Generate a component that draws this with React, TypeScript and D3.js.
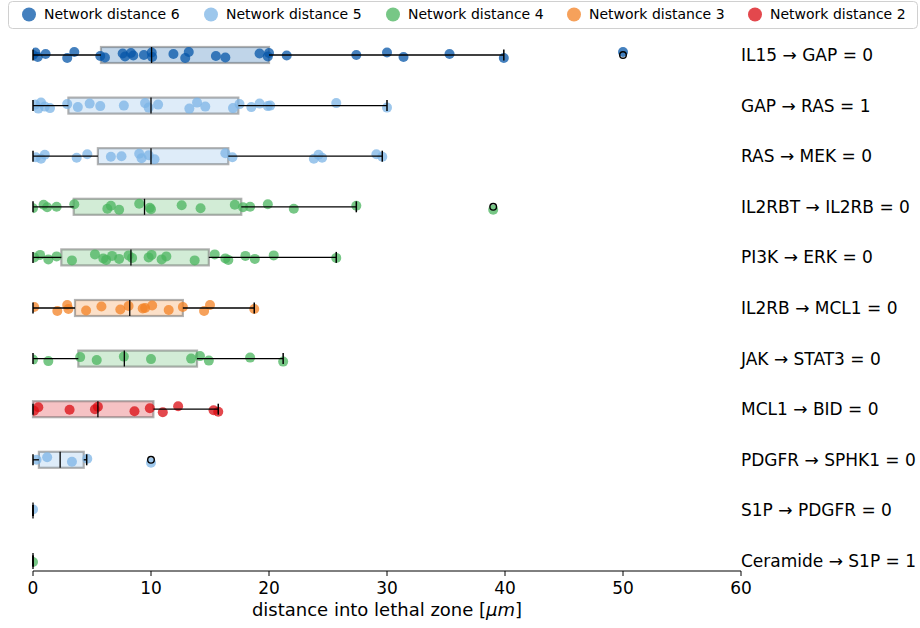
import React, { useEffect, useRef } from "react";
import * as d3 from "d3";

// Rows from top to bottom
const ROW_LABELS = [
  "IL15 → GAP = 0",
  "GAP → RAS = 1",
  "RAS → MEK = 0",
  "IL2RBT → IL2RB = 0",
  "PI3K → ERK = 0",
  "IL2RB → MCL1 = 0",
  "JAK → STAT3 = 0",
  "MCL1 → BID = 0",
  "PDGFR → SPHK1 = 0",
  "S1P → PDGFR = 0",
  "Ceramide → S1P = 1",
];

const ROW_DISTANCE = [6, 5, 5, 4, 4, 3, 4, 2, 5, 5, 4];

// Observed distances into the lethal zone (µm), one list per row
const ROW_POINTS: number[][] = [
  [0, 0.2, 0.4, 1.07, 2.9, 3.5, 5.7, 6.1, 7.6, 7.8, 8.3, 8.5, 9.4, 10.06, 10.1, 11.9, 12.9, 13.2, 15.5, 16.3, 19.2, 19.9, 20.0, 21.5, 27.4, 30.0, 31.4, 35.3, 39.9, 50.0],
  [0.17, 0.45, 0.68, 1.0, 1.44, 2.9, 3.8, 4.8, 5.7, 7.7, 9.5, 9.8, 10.6, 13.25, 13.9, 14.6, 16.95, 17.5, 18.5, 19.2, 19.9, 20.1, 25.7, 30.0],
  [0.25, 0.68, 1.0, 3.7, 4.6, 6.6, 7.5, 9.0, 9.2, 9.8, 10.3, 16.3, 16.9, 23.8, 24.2, 24.5, 29.1, 29.6],
  [0, 0.9, 1.2, 2.0, 3.5, 6.3, 6.6, 7.3, 9.0, 9.9, 10.0, 12.6, 14.2, 17.1, 17.8, 18.4, 19.9, 22.1, 27.4, 39.0],
  [0.1, 0.6, 1.3, 2.0, 3.3, 5.25, 5.96, 6.2, 6.7, 7.3, 8.1, 8.4, 9.8, 10.05, 10.9, 11.3, 13.7, 15.4, 16.3, 16.55, 18.0, 18.8, 20.4, 25.7],
  [0.1, 2.06, 2.9, 3.0, 4.5, 5.8, 7.4, 8.1, 9.3, 9.5, 10.1, 11.5, 12.7, 14.5, 15.0, 18.75],
  [0, 1.3, 4.0, 5.4, 7.7, 10.0, 13.4, 14.15, 14.9, 18.4, 21.2],
  [0.08, 0.45, 3.1, 5.25, 5.5, 8.6, 9.9, 11.0, 12.3, 15.3, 15.7],
  [0.3, 1.2, 3.3, 4.6, 10.0],
  [0],
  [0],
];

// Box-plot summaries per row
const BOX_Q1 = [5.76, 3.0, 5.5, 3.45, 2.4, 3.56, 3.84, 0, 0.5, 0, 0];
const BOX_MEDIAN = [10.05, 10.0, 10.0, 9.45, 8.3, 8.2, 7.74, 5.5, 2.3, 0, 0];
const BOX_Q3 = [20.0, 17.4, 16.55, 17.65, 14.9, 12.7, 13.9, 10.2, 4.3, 0, 0];
const WHISKER_LO = [0, 0, 0, 0, 0, 0, 0, 0, 0, 0, 0];
const WHISKER_HI = [39.9, 30.0, 29.6, 27.4, 25.7, 18.75, 21.2, 15.7, 4.55, 0, 0];
const OUTLIERS: number[][] = [[50.0], [], [], [39.0], [], [], [], [], [10.0], [], []];

const X_TICKS = [0, 10, 20, 30, 40, 50, 60];

const LEGEND_DISTANCES = [6, 5, 4, 3, 2];
const DISTANCE_COLOR: Record<number, string> = {
  6: "#0556a8",
  5: "#7cb4e6",
  4: "#4ab45d",
  3: "#f38224",
  2: "#d90b12",
};

const JITTER = [0, -2.5, 2, -1, 3, -3, 1, 2.5, -1.5, 1.5, -2, 0.5];

const W = 920;
const H = 628;
const FONT = "DejaVu Sans, sans-serif";

export default function App() {
  const ref = useRef<SVGSVGElement | null>(null);

  useEffect(() => {
    const svg = d3.select(ref.current);
    svg.selectAll("*").remove();

    const x = d3.scaleLinear().domain([0, 60]).range([33, 741]);
    const y = d3.scaleLinear().domain([0, 10]).range([55, 561]);
    const axisY = 571;
    const boxH = 16;
    const capH = 11;

    svg
      .append("defs")
      .append("clipPath")
      .attr("id", "plot-clip")
      .append("rect")
      .attr("x", x(0))
      .attr("y", 30)
      .attr("width", x(60) - x(0))
      .attr("height", axisY - 30);

    const boxes = svg.append("g");
    const points = svg.append("g").attr("clip-path", "url(#plot-clip)");
    const lines = svg.append("g");

    ROW_LABELS.forEach((_, i) => {
      const cy = y(i);
      const color = DISTANCE_COLOR[ROW_DISTANCE[i]];

      // box body
      boxes
        .append("rect")
        .attr("x", x(BOX_Q1[i]))
        .attr("y", cy - boxH / 2)
        .attr("width", x(BOX_Q3[i]) - x(BOX_Q1[i]))
        .attr("height", boxH)
        .attr("fill", color)
        .attr("fill-opacity", 0.25)
        .attr("stroke", "#555")
        .attr("stroke-opacity", 0.45)
        .attr("stroke-width", 2.2);

      // individual observations
      points
        .append("g")
        .selectAll("circle")
        .data(ROW_POINTS[i])
        .enter()
        .append("circle")
        .attr("cx", (d) => x(d))
        .attr("cy", (_, k) => cy + JITTER[(k + i * 3) % JITTER.length])
        .attr("r", 5)
        .attr("fill", color)
        .attr("fill-opacity", 0.75);

      // whiskers
      lines
        .append("line")
        .attr("x1", x(WHISKER_LO[i]))
        .attr("x2", x(BOX_Q1[i]))
        .attr("y1", cy)
        .attr("y2", cy)
        .attr("stroke", "#000")
        .attr("stroke-width", 1.3);
      lines
        .append("line")
        .attr("x1", x(BOX_Q3[i]))
        .attr("x2", x(WHISKER_HI[i]))
        .attr("y1", cy)
        .attr("y2", cy)
        .attr("stroke", "#000")
        .attr("stroke-width", 1.3);
      [WHISKER_LO[i], WHISKER_HI[i]].forEach((v) => {
        lines
          .append("line")
          .attr("x1", x(v))
          .attr("x2", x(v))
          .attr("y1", cy - capH / 2)
          .attr("y2", cy + capH / 2)
          .attr("stroke", "#000")
          .attr("stroke-width", 1.5);
      });

      // median
      lines
        .append("line")
        .attr("x1", x(BOX_MEDIAN[i]))
        .attr("x2", x(BOX_MEDIAN[i]))
        .attr("y1", cy - boxH / 2)
        .attr("y2", cy + boxH / 2)
        .attr("stroke", "#000")
        .attr("stroke-width", 1.3);

      // fliers
      lines
        .append("g")
        .selectAll("circle")
        .data(OUTLIERS[i])
        .enter()
        .append("circle")
        .attr("cx", (d) => x(d))
        .attr("cy", cy)
        .attr("r", 3.3)
        .attr("fill", "none")
        .attr("stroke", "#000")
        .attr("stroke-width", 1.4);
    });

    // row labels on the right
    svg
      .append("g")
      .selectAll("text")
      .data(ROW_LABELS)
      .enter()
      .append("text")
      .attr("x", 741)
      .attr("y", (_, i) => y(i))
      .attr("dy", "0.35em")
      .attr("font-family", FONT)
      .attr("font-size", 17)
      .attr("fill", "#000")
      .text((d) => d);

    // x axis
    const ax = svg.append("g");
    ax.append("line")
      .attr("x1", x(0))
      .attr("x2", x(60))
      .attr("y1", axisY)
      .attr("y2", axisY)
      .attr("stroke", "#000")
      .attr("stroke-width", 1);
    X_TICKS.forEach((t) => {
      ax.append("line")
        .attr("x1", x(t))
        .attr("x2", x(t))
        .attr("y1", axisY)
        .attr("y2", axisY + 5)
        .attr("stroke", "#000")
        .attr("stroke-width", 1);
      ax.append("text")
        .attr("x", x(t))
        .attr("y", 594)
        .attr("text-anchor", "middle")
        .attr("font-family", FONT)
        .attr("font-size", 17)
        .text(String(t));
    });
    const lbl = ax
      .append("text")
      .attr("x", x(30))
      .attr("y", 616)
      .attr("text-anchor", "middle")
      .attr("font-family", FONT)
      .attr("font-size", 18);
    lbl.append("tspan").text("distance into lethal zone [");
    lbl.append("tspan").attr("font-style", "italic").text("μm");
    lbl.append("tspan").text("]");

    // legend
    const lg = svg.append("g");
    lg.append("rect")
      .attr("x", 8.5)
      .attr("y", 1.5)
      .attr("width", 909)
      .attr("height", 27)
      .attr("rx", 4)
      .attr("fill", "#fff")
      .attr("fill-opacity", 0.8)
      .attr("stroke", "#d0d0d0");
    const itemX = [29, 211, 393, 574, 755];
    LEGEND_DISTANCES.forEach((dist, k) => {
      lg.append("circle")
        .attr("cx", itemX[k])
        .attr("cy", 14.5)
        .attr("r", 7)
        .attr("fill", DISTANCE_COLOR[dist])
        .attr("fill-opacity", 0.75);
      lg.append("text")
        .attr("x", itemX[k] + 15)
        .attr("y", 14.5)
        .attr("dy", "0.35em")
        .attr("font-family", FONT)
        .attr("font-size", 14)
        .text(`Network distance ${dist}`);
    });
  }, []);

  return (
    <svg
      ref={ref}
      width={W}
      height={H}
      style={{ position: "absolute", left: 0, top: 0, background: "#fff" }}
    />
  );
}
